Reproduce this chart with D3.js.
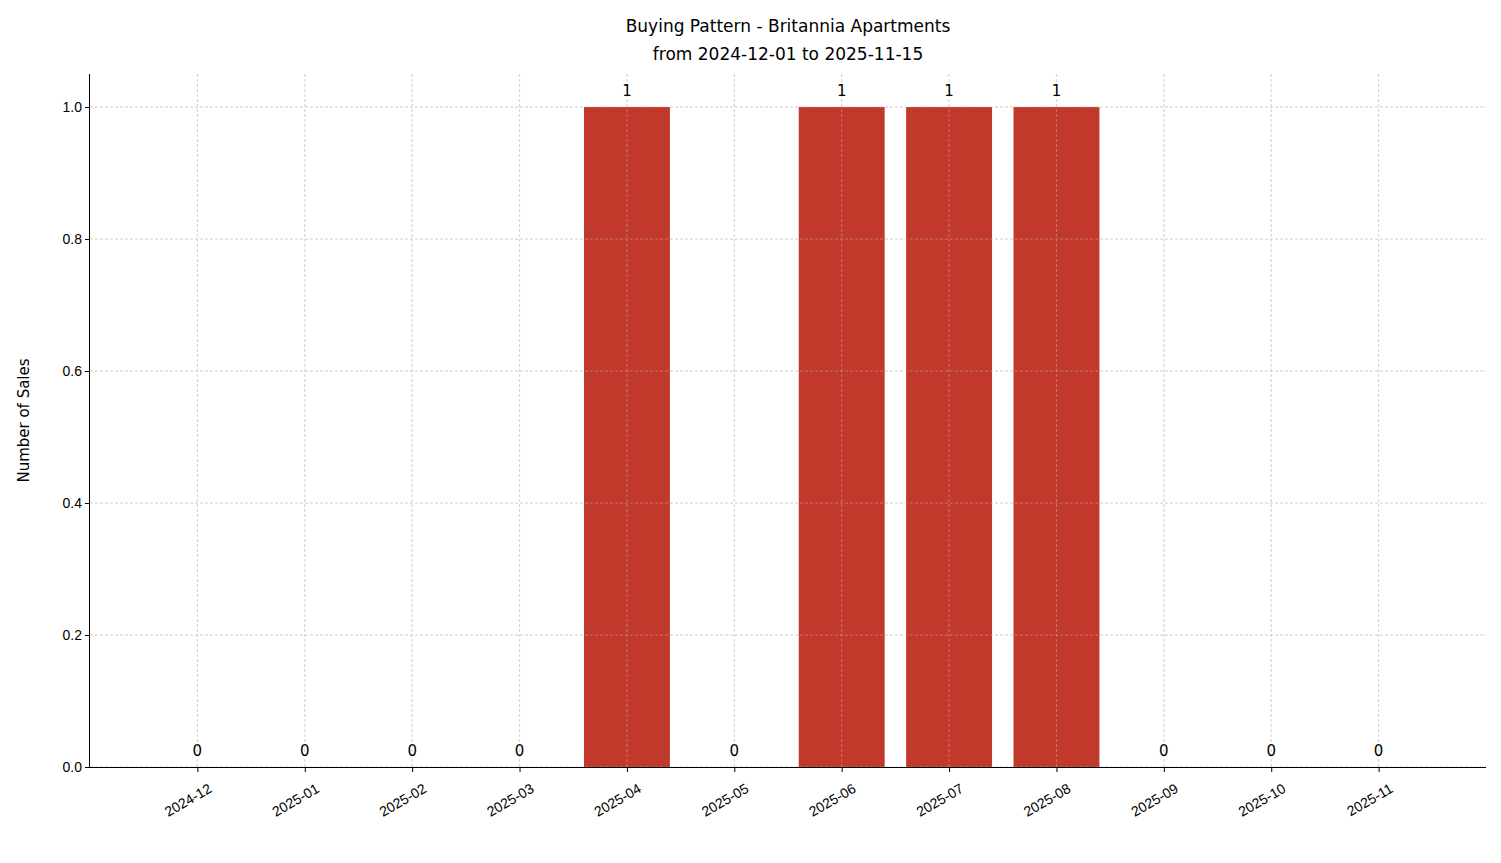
<!DOCTYPE html>
<html><head><meta charset="utf-8">
<script src="https://cdn.jsdelivr.net/npm/d3@7"></script>
<style>body{margin:0;background:#fff}svg{font-family:"DejaVu Sans",sans-serif}</style>
</head><body><svg id="c" width="1501" height="863"></svg>
<script>
const months = ["2024-12","2025-01","2025-02","2025-03","2025-04","2025-05","2025-06","2025-07","2025-08","2025-09","2025-10","2025-11"];
const sales = [0,0,0,0,1,0,1,1,1,0,0,0];
const yTicks = [0,0.2,0.4,0.6,0.8,1.0];

const svg = d3.select("#c");
const L=90,R=1486,T=74,B=767;
const x = d3.scaleLinear().domain([-1,12]).range([L,R]);
const y = d3.scaleLinear().domain([0,1.05]).range([B,T]);
const bw = x(0.8)-x(0);
const grid = svg.append("g").attr("stroke","#d0d0d0").attr("stroke-width",0.8).attr("stroke-dasharray","3,2");
months.forEach((m,i)=>grid.append("line").attr("x1",x(i)).attr("x2",x(i)).attr("y1",T).attr("y2",B));
yTicks.forEach(v=>grid.append("line").attr("x1",L).attr("x2",R).attr("y1",y(v)).attr("y2",y(v)));

svg.append("g").selectAll("rect").data(sales).join("rect")
 .attr("x",(d,i)=>x(i)-bw/2).attr("width",bw).attr("y",d=>y(d)).attr("height",d=>B-y(d)).attr("fill","#c0392b");
// redraw grid over bars (matplotlib draws grid above? shows through bars)
const grid2 = svg.append("g").attr("stroke","#d0d0d0").attr("stroke-width",0.8).attr("stroke-dasharray","3,2").attr("opacity",0.5);
months.forEach((m,i)=>grid2.append("line").attr("x1",x(i)).attr("x2",x(i)).attr("y1",T).attr("y2",B));
yTicks.forEach(v=>grid2.append("line").attr("x1",L).attr("x2",R).attr("y1",y(v)).attr("y2",y(v)));

svg.append("g").selectAll("text").data(sales).join("text")
 .attr("x",(d,i)=>x(i)).attr("y",d=>y(d)-11).attr("text-anchor","middle").attr("font-size",15).text(d=>d);

const xa = svg.append("g").attr("transform",`translate(0,${B})`)
 .call(d3.axisBottom(x).tickValues(d3.range(12)).tickFormat(i=>months[i]).tickSize(5).tickSizeOuter(0));
xa.select(".domain").attr("stroke","#000").attr("d",`M${L},0.5H${R}`);
xa.selectAll("text").attr("font-size",14).attr("fill","#000").attr("text-anchor","end")
 .attr("transform","translate(6,9) rotate(-30)").attr("dy","0.7em").attr("dx","0");
const ya = svg.append("g").attr("transform",`translate(${L},0)`)
 .call(d3.axisLeft(y).tickValues(yTicks).tickFormat(d3.format(".1f")).tickSize(5).tickSizeOuter(0));
ya.select(".domain").attr("d",`M-0.5,${T}V${B}`);
ya.selectAll("text").attr("font-size",14).attr("fill","#000");
svg.selectAll(".tick line").attr("stroke","#000");

svg.append("text").attr("transform",`translate(29,${(T+B)/2}) rotate(-90)`).attr("text-anchor","middle").attr("font-size",15).text("Number of Sales");
svg.append("text").attr("x",788).attr("y",32).attr("text-anchor","middle").attr("font-size",17).text("Buying Pattern - Britannia Apartments");
svg.append("text").attr("x",788).attr("y",60).attr("text-anchor","middle").attr("font-size",17).text("from 2024-12-01 to 2025-11-15");
</script></body></html>
